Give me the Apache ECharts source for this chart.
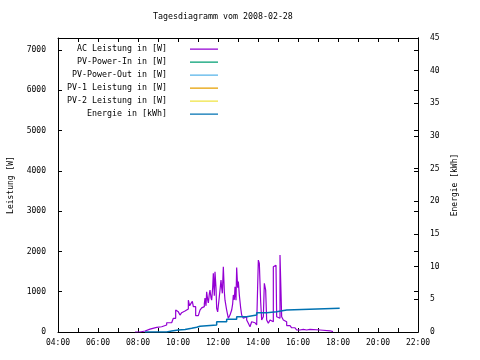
<!DOCTYPE html>
<html><head><meta charset="utf-8">
<script src="https://cdn.jsdelivr.net/npm/echarts@6/dist/echarts.min.js"></script>
<style>html,body{margin:0;padding:0;background:#fff}#c{width:480px;height:360px}</style>
</head><body><div id="c"></div>
<script>
const chartTitle = 'Tagesdiagramm vom 2008-02-28';
const seriesNames = ['AC Leistung in [W]', 'PV-Power-In in [W]', 'PV-Power-Out in [W]', 'PV-1 Leistung in [W]', 'PV-2 Leistung in [W]', 'Energie in [kWh]'];
const seriesColors = ['#9400d3', '#009e73', '#56b4e9', '#e69f00', '#f0e442', '#0072b2'];
const xTickLabels = ['04:00', '06:00', '08:00', '10:00', '12:00', '14:00', '16:00', '18:00', '20:00', '22:00'];
const leftAxisName = 'Leistung [W]';
const rightAxisName = 'Energie [kWh]';

const acTimes = ['07:51','08:06','08:21','08:36','08:56','09:11','09:26','09:41','09:46','09:53','09:57','10:01','10:06','10:11','10:16','10:21','10:26','10:31','10:35','10:39','10:43','10:46','10:53','11:01','11:06','11:11','11:16','11:19','11:21','11:24','11:26','11:29','11:31','11:34','11:36','11:39','11:41','11:44','11:46','11:49','11:51','11:54','11:56','11:59','12:03','12:06','12:09','12:11','12:13','12:16','12:19','12:21','12:26','12:31','12:36','12:41','12:44','12:46','12:49','12:51','12:54','12:56','12:59','13:01','13:04','13:08','13:11','13:16','13:21','13:26','13:31','13:36','13:41','13:46','13:51','13:56','14:01','14:04','14:08','14:11','14:16','14:19','14:23','14:26','14:31','14:36','14:41','14:46','14:51','14:54','14:56','15:01','15:06','15:08','15:11','15:16','15:21','15:26','15:36','15:41','15:51','15:56','16:06','16:16','16:26','16:36','17:06','17:36','17:45'];
const acValues = [0,25,70,115,130,175,230,275,340,545,500,460,420,480,520,560,570,790,650,710,760,630,405,420,545,600,630,700,840,650,1000,800,720,950,1040,850,790,1100,1455,900,1495,1100,590,500,800,1040,1290,1100,960,1620,1000,790,545,340,420,545,700,920,800,1120,790,1600,1100,1250,920,600,420,340,380,300,215,130,255,230,215,175,1785,1700,750,300,380,1210,1040,300,215,300,255,1620,1660,1620,380,340,1910,1950,380,300,255,160,150,105,90,50,65,50,65,50,30,10,0];

const energyTimes = ['08:21','09:26','09:41','10:01','10:21','10:41','10:56','11:06','11:26','11:56','12:26','12:56','13:26','13:56','14:26','14:56','15:26','18:05'];
const energyValues = [0,0.15,0.3,0.4,0.56,0.72,0.87,0.95,1.07,1.58,1.94,2.35,2.6,2.96,3.1,3.37,3.63,3.63];

function toMin(t) { const p = t.split(':'); return (+p[0]) * 60 + (+p[1]); }
const acData = acTimes.map((t, i) => [toMin(t), acValues[i]]);
const energyData = energyTimes.map((t, i) => [toMin(t), energyValues[i]]);

const FONT = 'DejaVu Sans Mono';
const black = '#000';
const lineIcon = 'path://M0,0 L0.01,0 L0,0.01 Z M0,9 L0.01,9 L0,8.99 Z M0,4 L28,4 L28,5.3 L0,5.3 Z';
const lineWidths = [1.2, 1.2, 1.2, 1.2, 1.2, 1.5];

function xAxisCfg(pos, labels) {
  return {
    type: 'value', position: pos, min: 240, max: 1320, interval: 120,
    axisLine: { show: true, onZero: false, lineStyle: { color: black, width: 1 } },
    axisTick: { show: true, inside: true, length: 4, lineStyle: { color: black } },
    minorTick: { show: true, splitNumber: 2, length: 4, lineStyle: { color: black } },
    splitLine: { show: false }, minorSplitLine: { show: false },
    axisLabel: { show: labels, margin: 7, color: black, fontFamily: FONT, fontSize: 8,
      formatter: v => xTickLabels[Math.round((v - 240) / 120)] || '' }
  };
}
function yAxisCfg(pos, max, interval, labels, name, gap, showMax) {
  return {
    type: 'value', position: pos, min: 0, max: max, interval: interval,
    name: name || '', nameLocation: 'middle', nameRotate: 90, nameGap: gap || 0,
    nameTextStyle: { color: black, fontFamily: FONT, fontSize: 8 },
    axisLine: { show: true, onZero: false, lineStyle: { color: black, width: 1 } },
    axisTick: { show: true, inside: true, length: 4, lineStyle: { color: black } },
    splitLine: { show: false },
    axisLabel: { show: labels, margin: 12, color: black, fontFamily: FONT, fontSize: 8,
      showMaxLabel: !!showMax, formatter: v => String(v) }
  };
}

const series = seriesNames.map((n, i) => ({
  name: n, type: 'line', xAxisIndex: 0, yAxisIndex: i === 5 ? 1 : 0,
  data: i === 0 ? acData : (i === 5 ? energyData : []),
  symbol: 'none', showSymbol: false, step: 'end',
  lineStyle: { width: lineWidths[i], color: seriesColors[i] }, itemStyle: { color: seriesColors[i] },
  z: i === 5 ? 3 : 2
}));

const chart = echarts.init(document.getElementById('c'), null, { renderer: 'canvas' });
chart.setOption({
  animation: false,
  backgroundColor: '#fff',
  title: { text: chartTitle, left: 153, top: 13, padding: 0,
    textStyle: { color: black, fontFamily: FONT, fontSize: 8.3, fontWeight: 'normal' } },
  grid: { left: 58, right: 62, top: 38, bottom: 28, containLabel: false, outerBoundsMode: 'none' },
  legend: { orient: 'vertical', right: 262, top: 44.5, align: 'right', padding: 0,
    itemWidth: 28, itemHeight: 9, itemGap: 4, selectedMode: false,
    itemStyle: { borderWidth: 0 }, lineStyle: { width: 0 },
    data: seriesNames.map((n, i) => ({ name: n, icon: lineIcon, itemStyle: { color: seriesColors[i], borderWidth: 0 } })),
    textStyle: { color: black, fontFamily: FONT, fontSize: 8.3, lineHeight: 9, padding: [0, 18, 0, 0] } },
  xAxis: [xAxisCfg('bottom', true), xAxisCfg('top', false)],
  yAxis: [yAxisCfg('left', 7300, 1000, true, leftAxisName, 43, false), yAxisCfg('right', 45, 5, true, rightAxisName, 28, true), yAxisCfg('right', 7300, 1000, false)],
  series: series
});
</script></body></html>
